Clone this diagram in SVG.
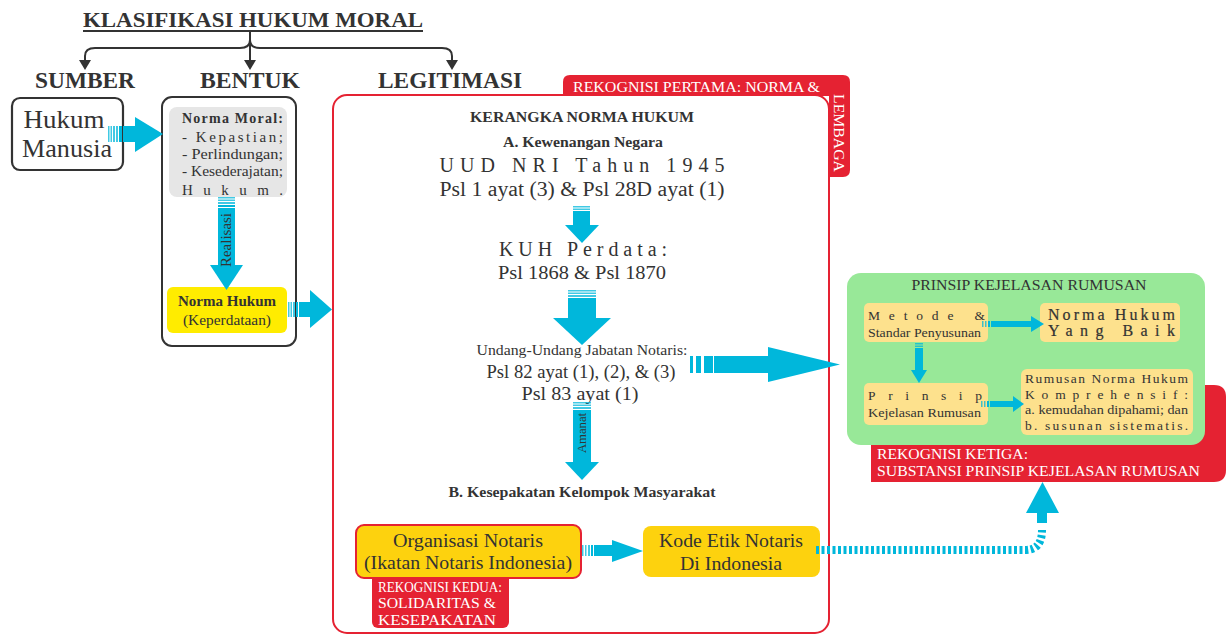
<svg xmlns="http://www.w3.org/2000/svg" width="1232" height="636" viewBox="0 0 1232 636">
<style>
.t{font-family:"Liberation Serif","DejaVu Serif","Times New Roman",serif;fill:#333}
.b{font-weight:bold}
.w{fill:#fff}
.c{fill:#00b7db}
.s{fill:#00b7db;opacity:.75}
.ln{fill:none;stroke:#333;stroke-width:2}
</style>
<defs>
<marker id="ah" viewBox="0 0 10 12" refX="0" refY="6" markerWidth="10" markerHeight="12" markerUnits="userSpaceOnUse" orient="auto"><path d="M0,0 L10,6 L0,12 z" fill="#333"/></marker>
</defs>
<rect width="1232" height="636" fill="#fff"/>

<g id="title">
<text class="t b" x="253" y="27" font-size="22" text-anchor="middle" textLength="340" lengthAdjust="spacingAndGlyphs">KLASIFIKASI HUKUM MORAL</text>
<line x1="83" y1="31" x2="423" y2="31" stroke="#333" stroke-width="2"/>
</g>

<g id="sumber">
<text class="t b" x="85" y="88" font-size="23" text-anchor="middle" textLength="100" lengthAdjust="spacingAndGlyphs">SUMBER</text>
<rect x="12" y="98" width="111" height="72" rx="8" fill="#fff" stroke="#333" stroke-width="2.2"/>
<text class="t" x="64" y="128" font-size="26" text-anchor="middle" textLength="81" lengthAdjust="spacingAndGlyphs">Hukum</text>
<text class="t" x="67" y="157" font-size="26" text-anchor="middle" textLength="90" lengthAdjust="spacingAndGlyphs">Manusia</text>
</g>

<g id="bentuk">
<text class="t b" x="250" y="88" font-size="23" text-anchor="middle" textLength="100" lengthAdjust="spacingAndGlyphs">BENTUK</text>
<rect x="162" y="97" width="134" height="249" rx="10" fill="none" stroke="#333" stroke-width="2"/>
<rect x="169" y="107" width="118" height="90" rx="8" fill="#e6e6e6"/>
<text class="t b" x="182" y="123" font-size="14" textLength="101" lengthAdjust="spacing">Norma Moral:</text>
<text class="t" x="182" y="142" font-size="15" textLength="101" lengthAdjust="spacing">- Kepastian;</text>
<text class="t" x="182" y="159" font-size="15" textLength="101" lengthAdjust="spacingAndGlyphs">- Perlindungan;</text>
<text class="t" x="182" y="176" font-size="15" textLength="101" lengthAdjust="spacingAndGlyphs">- Kesederajatan;</text>
<text class="t" x="182" y="195" font-size="15" textLength="101" lengthAdjust="spacing">Hukum.</text>
</g>

<g id="norma-hukum">
<rect x="167" y="287" width="120" height="46" rx="6" fill="#ffec00"/>
<text class="t b" x="227" y="306" font-size="15" text-anchor="middle" textLength="98" lengthAdjust="spacingAndGlyphs">Norma Hukum</text>
<text class="t" x="227" y="325" font-size="15" text-anchor="middle" textLength="88" lengthAdjust="spacingAndGlyphs">(Keperdataan)</text>
</g>

<g id="legitimasi">
<text class="t b" x="450" y="88" font-size="23" text-anchor="middle" textLength="144" lengthAdjust="spacingAndGlyphs">LEGITIMASI</text>
<path d="M563,96 V82 Q563,75 570,75 H843 Q850,75 850,82 V170 Q850,177 843,177 H829 V96 Z" fill="#e52232"/>
<rect x="333" y="95" width="496" height="538" rx="14" fill="#fff" stroke="#e52232" stroke-width="2"/>
<text class="t w" x="573" y="92" font-size="15" textLength="247" lengthAdjust="spacingAndGlyphs">REKOGNISI PERTAMA: NORMA &amp;</text>
<text class="t w" font-size="14" transform="translate(834,94) rotate(90)" textLength="78" lengthAdjust="spacingAndGlyphs">LEMBAGA</text>
<text class="t b" x="582" y="122" font-size="14" text-anchor="middle" textLength="224" lengthAdjust="spacingAndGlyphs">KERANGKA NORMA HUKUM</text>
<text class="t b" x="583" y="147" font-size="14" text-anchor="middle" textLength="160" lengthAdjust="spacingAndGlyphs">A. Kewenangan Negara</text>
<text class="t" x="582" y="172" font-size="20" text-anchor="middle" textLength="285" lengthAdjust="spacing">UUD NRI Tahun 1945</text>
<text class="t" x="582" y="196" font-size="20" text-anchor="middle" textLength="285" lengthAdjust="spacingAndGlyphs">Psl 1 ayat (3) &amp; Psl 28D ayat (1)</text>
<text class="t" x="583" y="256" font-size="20" text-anchor="middle" textLength="168" lengthAdjust="spacing">KUH Perdata:</text>
<text class="t" x="582" y="279" font-size="19" text-anchor="middle" textLength="168" lengthAdjust="spacingAndGlyphs">Psl 1868 &amp; Psl 1870</text>
<text class="t" x="582" y="355" font-size="15.5" text-anchor="middle" textLength="211" lengthAdjust="spacingAndGlyphs">Undang-Undang Jabatan Notaris:</text>
<text class="t" x="581" y="378" font-size="18" text-anchor="middle" textLength="189" lengthAdjust="spacingAndGlyphs">Psl 82 ayat (1), (2), &amp; (3)</text>
<text class="t" x="580" y="400" font-size="18.5" text-anchor="middle" textLength="117" lengthAdjust="spacingAndGlyphs">Psl 83 ayat (1)</text>
<text class="t b" x="582" y="497" font-size="14" text-anchor="middle" textLength="267" lengthAdjust="spacingAndGlyphs">B. Kesepakatan Kelompok Masyarakat</text>
</g>

<g id="organisasi-notaris">
<rect x="372" y="570" width="137" height="58" rx="6" fill="#e52232"/>
<rect x="356" y="525" width="225" height="53" rx="8" fill="#fdd20e" stroke="#e52232" stroke-width="2"/>
<text class="t" x="468" y="547" font-size="19" text-anchor="middle" textLength="150" lengthAdjust="spacingAndGlyphs">Organisasi Notaris</text>
<text class="t" x="468" y="569" font-size="19" text-anchor="middle" textLength="208" lengthAdjust="spacingAndGlyphs">(Ikatan Notaris Indonesia)</text>
<text class="t w" x="378" y="592" font-size="14.5" textLength="124" lengthAdjust="spacingAndGlyphs">REKOGNISI KEDUA:</text>
<text class="t w" x="378" y="608" font-size="14.5" textLength="118" lengthAdjust="spacingAndGlyphs">SOLIDARITAS &amp;</text>
<text class="t w" x="378" y="625" font-size="14.5" textLength="118" lengthAdjust="spacingAndGlyphs">KESEPAKATAN</text>
</g>

<g id="kode-etik">
<rect x="643" y="526" width="177" height="51" rx="8" fill="#fdd20e"/>
<text class="t" x="731" y="547" font-size="19.5" text-anchor="middle" textLength="144" lengthAdjust="spacingAndGlyphs">Kode Etik Notaris</text>
<text class="t" x="731" y="570" font-size="19.5" text-anchor="middle" textLength="102" lengthAdjust="spacingAndGlyphs">Di Indonesia</text>
</g>

<g id="prinsip-kejelasan">
<path d="M871,385 H1214 Q1226,385 1226,397 V470 Q1226,482 1214,482 H871 Z" fill="#e52232"/>
<rect x="847" y="273" width="358" height="172" rx="14" fill="#98e898"/>
<text class="t" x="1029" y="290" font-size="15" text-anchor="middle" textLength="235" lengthAdjust="spacingAndGlyphs">PRINSIP KEJELASAN RUMUSAN</text>
<text class="t w" x="877" y="459" font-size="15" textLength="151" lengthAdjust="spacingAndGlyphs">REKOGNISI KETIGA:</text>
<text class="t w" x="877" y="476" font-size="15" textLength="323" lengthAdjust="spacingAndGlyphs">SUBSTANSI PRINSIP KEJELASAN RUMUSAN</text>
</g>

<g id="metode">
<rect x="864" y="303" width="124" height="39" rx="5" fill="#fde18d"/>
<text class="t" x="868" y="320" font-size="13.5" textLength="117" lengthAdjust="spacing">Metode &amp;</text>
<text class="t" x="868" y="337" font-size="13.5" textLength="113" lengthAdjust="spacingAndGlyphs">Standar Penyusunan</text>
</g>
<g id="norma-baik">
<rect x="1040" y="303" width="140" height="39" rx="5" fill="#fde18d"/>
<text class="t" x="1048" y="320" font-size="16" textLength="127" lengthAdjust="spacing" stroke="#333" stroke-width="0.2">Norma Hukum</text>
<text class="t" x="1048" y="336" font-size="16" textLength="127" lengthAdjust="spacing" stroke="#333" stroke-width="0.2">Yang Baik</text>
</g>
<g id="prinsip">
<rect x="864" y="383" width="124" height="42" rx="5" fill="#fde18d"/>
<text class="t" x="868" y="400" font-size="13.5" textLength="114" lengthAdjust="spacing">Prinsip</text>
<text class="t" x="868" y="417" font-size="13.5" textLength="113" lengthAdjust="spacingAndGlyphs">Kejelasan Rumusan</text>
</g>
<g id="rumusan">
<rect x="1021" y="369" width="172" height="66" rx="6" fill="#fde18d"/>
<text class="t" x="1025" y="383" font-size="13.5" textLength="163" lengthAdjust="spacing">Rumusan Norma Hukum</text>
<text class="t" x="1025" y="399" font-size="13.5" textLength="163" lengthAdjust="spacing">Komprehensif:</text>
<text class="t" x="1025" y="414" font-size="13.5" textLength="163" lengthAdjust="spacingAndGlyphs">a. kemudahan dipahami; dan</text>
<text class="t" x="1025" y="430" font-size="13.5" textLength="163" lengthAdjust="spacing">b. susunan sistematis.</text>
</g>

<g id="connectors">
<path class="ln" d="M250,31 V40 Q250,48 240,48 H95 Q85,48 85,56 V60" marker-end="url(#ah)"/>
<path class="ln" d="M250,40 V60" marker-end="url(#ah)"/>
<path class="ln" d="M250,40 Q250,48 260,48 H442 Q452,48 452,56 V60" marker-end="url(#ah)"/>
<g><rect class="s" x="108" y="126" width="1.5" height="16"/><rect class="s" x="110.5" y="126" width="1.5" height="16"/><rect class="s" x="113" y="126" width="2" height="16"/><rect class="s" x="116" y="126" width="2" height="16"/><rect class="c" x="119" y="126" width="3" height="16"/><rect class="c" x="123" y="126" width="14" height="16"/><polygon class="c" points="135,117 163,134 135,152"/></g>
<g><rect class="s" x="218" y="197" width="17" height="1.5"/><rect class="s" x="218" y="199.5" width="17" height="1.5"/><rect class="s" x="218" y="202" width="17" height="2"/><rect class="c" x="218" y="205" width="17" height="2"/><rect class="c" x="218" y="208" width="17" height="58"/><polygon class="c" points="210,265 243,265 226.5,290"/>
<text class="t" font-size="15" transform="translate(231,240) rotate(-90)" text-anchor="middle" textLength="54" lengthAdjust="spacingAndGlyphs">Realisasi</text></g>
<g><rect class="s" x="288" y="302" width="1.5" height="15"/><rect class="s" x="290.5" y="302" width="1.5" height="15"/><rect class="s" x="293" y="302" width="2" height="15"/><rect class="c" x="296" y="302" width="2" height="15"/><rect class="c" x="299" y="302" width="12" height="15"/><polygon class="c" points="310,290 332,309.5 310,328"/></g>
<g><rect class="s" x="573" y="206" width="17" height="1.5"/><rect class="s" x="573" y="208.5" width="17" height="1.5"/><rect class="c" x="573" y="211" width="17" height="15"/><polygon class="c" points="565,225 599,225 582,243"/></g>
<g><rect class="s" x="568" y="290" width="28" height="1.5"/><rect class="s" x="568" y="292.5" width="28" height="1.5"/><rect class="s" x="568" y="295" width="28" height="2"/><rect class="c" x="568" y="298" width="28" height="21"/><polygon class="c" points="553,318 611,318 582,345"/></g>
<g><rect class="c" x="690" y="356" width="3" height="17"/><rect class="c" x="696" y="356" width="5" height="17"/><rect class="c" x="704" y="356" width="9" height="17"/><rect class="c" x="714" y="356" width="56" height="17"/><polygon class="c" points="768,347 840,364.5 768,382"/></g>
<g><rect class="s" x="573" y="402" width="18" height="1.5"/><rect class="s" x="573" y="404.5" width="18" height="1.5"/><rect class="s" x="573" y="407" width="18" height="2"/><rect class="c" x="573" y="410" width="18" height="53"/><polygon class="c" points="565,462 599,462 582,480"/>
<text class="t" font-size="13" transform="translate(586,433) rotate(-90)" text-anchor="middle" textLength="40" lengthAdjust="spacingAndGlyphs">Amanat</text></g>
<g><rect class="s" x="582" y="545" width="1.5" height="11"/><rect class="s" x="585" y="545" width="1.5" height="11"/><rect class="s" x="588" y="545" width="2" height="11"/><rect class="c" x="591" y="545" width="2" height="11"/><rect class="c" x="594" y="545" width="20" height="11"/><polygon class="c" points="612,540 643,551 612,562"/></g>
<g><path d="M816,550 H1025 Q1042,550 1042,530" fill="none" stroke="#00b7db" stroke-width="8" stroke-dasharray="3 2.5"/><rect class="c" x="1037" y="512" width="10" height="11"/><polygon class="c" points="1026,513 1059,513 1042.5,482"/></g>
<g><rect class="s" x="982" y="321" width="1.5" height="6"/><rect class="s" x="985" y="321" width="1.5" height="6"/><rect class="c" x="988" y="321" width="2" height="6"/><rect class="c" x="991" y="321" width="41" height="6"/><polygon class="c" points="1031,316 1044,324 1031,332"/></g>
<g><rect class="s" x="915" y="343" width="8" height="1.5"/><rect class="s" x="915" y="345.5" width="8" height="1.5"/><rect class="c" x="915" y="348" width="8" height="23"/><polygon class="c" points="911,370 927,370 919,383"/></g>
<g><rect class="s" x="981" y="401" width="1.5" height="6"/><rect class="s" x="984" y="401" width="1.5" height="6"/><rect class="c" x="987" y="401" width="2" height="6"/><rect class="c" x="990" y="401" width="24" height="6"/><polygon class="c" points="1013,396 1024,404 1013,412"/></g>
</g>
</svg>
